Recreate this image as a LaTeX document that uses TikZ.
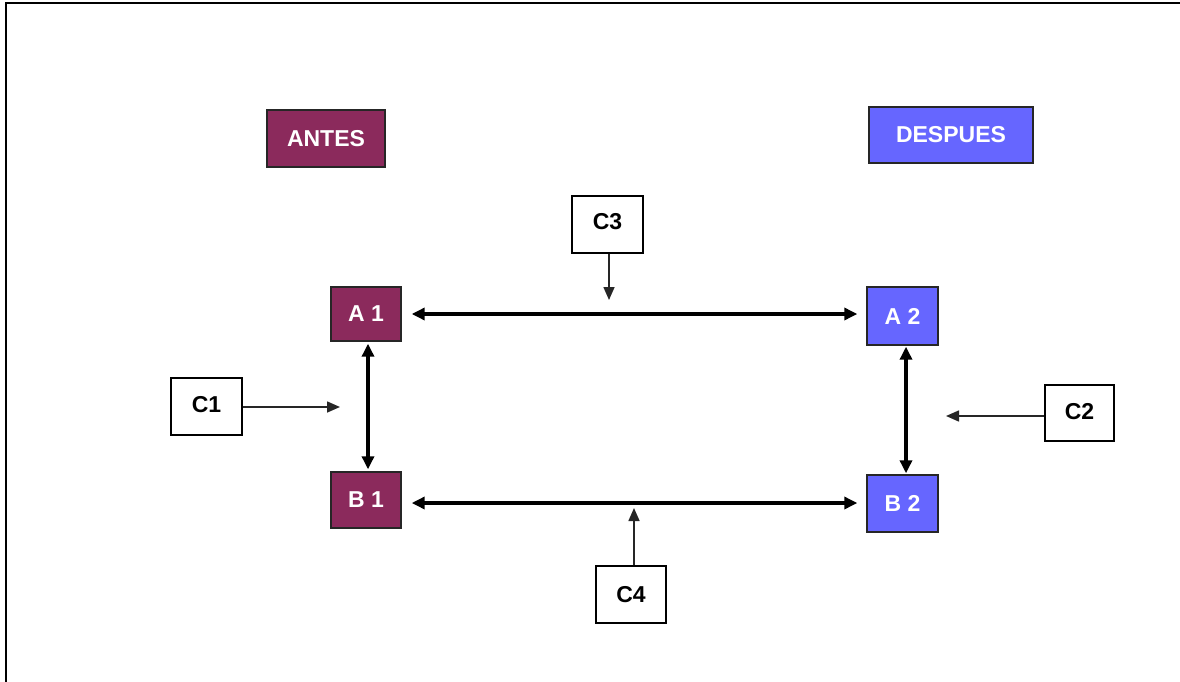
\documentclass[tikz,border=0pt]{standalone}
\usepackage{fontspec}
\setmainfont{Liberation Sans}
\usetikzlibrary{arrows.meta}
\definecolor{antes}{RGB}{139,42,92}
\definecolor{despues}{RGB}{102,102,255}
\begin{document}
\begin{tikzpicture}[x=1pt,y=-1pt,
  every node/.style={inner sep=0pt, font=\fontsize{23}{26}\selectfont\bfseries},
  colbox/.style={draw=black!85, line width=1.4pt, text=white},
  cbox/.style={draw=black, line width=1.4pt, fill=white, text=black},
  tip/.style={-{Triangle[length=13pt,width=11pt]}},
  dbl/.style={{Triangle[length=13pt,width=12pt]}-{Triangle[length=13pt,width=12pt]}, line width=3.4pt},
  thin/.style={tip, line width=1.6pt, draw=black!85}]
\useasboundingbox (0,0) rectangle (1180,682);
% page frame: top and left edges
\draw[line width=2.8pt] (6,682) -- (6,3) -- (1180,3);

% headings
\node[colbox, fill=antes, minimum width=118pt, minimum height=57pt] (antes) at (326,138.5) {ANTES};
\node[colbox, fill=despues, minimum width=164pt, minimum height=56pt] (despues) at (951,135) {DESPUES};

% states
\node[colbox, fill=antes, minimum width=70pt, minimum height=54pt] (A1) at (366,314) {A 1};
\node[colbox, fill=despues, minimum width=71pt, minimum height=58pt] (A2) at (902.5,316) {A 2};
\node[colbox, fill=antes, minimum width=70pt, minimum height=56pt] (B1) at (366,500) {B 1};
\node[colbox, fill=despues, minimum width=71pt, minimum height=57pt] (B2) at (902.5,503.5) {B 2};

% labels
\node[cbox, minimum width=71pt, minimum height=57pt, text depth=6pt] (C3) at (607.5,224.5) {C3};
\node[cbox, minimum width=71pt, minimum height=57pt, text depth=4pt] (C1) at (206.5,406.5) {C1};
\node[cbox, minimum width=69pt, minimum height=56pt, text depth=4pt] (C2) at (1079.5,413) {C2};
\node[cbox, minimum width=70pt, minimum height=57pt] (C4) at (631,594.5) {C4};

% label targets
\coordinate (t1) at (340,407);
\coordinate (t2) at (946,416);
\coordinate (t3) at (609,300);
\coordinate (t4) at (634,508);

% transitions
\draw[dbl, shorten <=10pt, shorten >=9pt] (A1.east) -- (A1.east -| A2.west);
\draw[dbl, shorten <=10pt, shorten >=9pt] (B1.east |- 0,503) -- (B2.west |- 0,503);
\draw[dbl, shorten <=2pt, shorten >=2pt] (A1.south -| 368,0) -- (B1.north -| 368,0);
\draw[dbl, shorten <=1pt, shorten >=1pt] (A2.south -| 906,0) -- (B2.north -| 906,0);

% label arrows
\draw[thin] (C1.east |- t1) -- (t1);
\draw[thin] (C2.west |- t2) -- (t2);
\draw[thin] (C3.south -| t3) -- (t3);
\draw[thin] (C4.north -| t4) -- (t4);
\end{tikzpicture}
\end{document}
